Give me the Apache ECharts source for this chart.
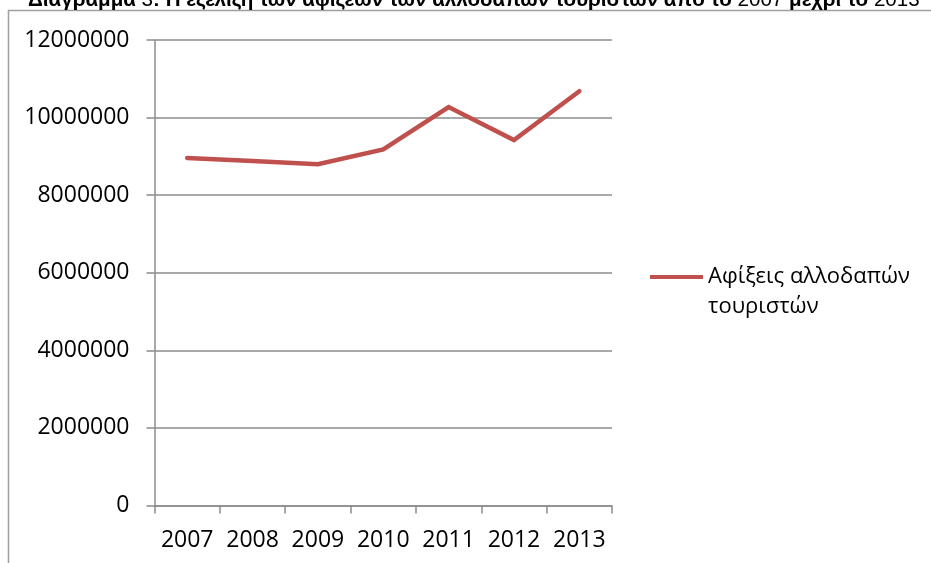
<!DOCTYPE html>
<html>
<head>
<meta charset="utf-8">
<script src="https://cdn.jsdelivr.net/npm/echarts@6/dist/echarts.min.js"></script>
<style>
  html, body { margin: 0; padding: 0; background: #fff; }
  #chart { width: 931px; height: 563px; }
</style>
</head>
<body>
<div id="chart"></div>
<script>
// Arrivals of foreign tourists per year
const years = ['2007', '2008', '2009', '2010', '2011', '2012', '2013'];
const arrivals = [8960000, 8880000, 8800000, 9180000, 10270000, 9420000, 10680000];
const seriesName = 'Αφίξεις αλλοδαπών\nτουριστών';

// Heading pieces: [text, bold?]
const headingParts = [
  ['Διάγραμμα ', true], ['3', false], [': Η εξέλιξη των αφίξεων των αλλοδαπών τουριστών από το ', true],
  ['2007', false], [' μέχρι το ', true], ['2013', false]
];

const FONT = '"Open Sans", "Noto Sans", sans-serif';
const AXIS_GRAY = '#8c8c8c';
const LINE_RED = '#C0504D';

const headingText = headingParts.map(([t, b]) => '{' + (b ? 'b' : 'n') + '|' + t + '}').join('');

const chart = echarts.init(document.getElementById('chart'), null, { renderer: 'canvas' });
chart.setOption({
  backgroundColor: '#ffffff',
  animation: false,
  graphic: [
    {
      type: 'rect', silent: true,
      shape: { x: 8.5, y: 10.5, width: 1000, height: 1000 },
      style: { fill: 'none', stroke: '#a0a0a0', lineWidth: 1.5 }
    },
    {
      type: 'text', silent: true, x: 28, y: -10,
      style: {
        text: headingText,
        fill: '#000',
        rich: {
          b: { fontFamily: '"Liberation Sans", Arial, sans-serif', fontWeight: 'bold', fontSize: 20.6, fill: '#000' },
          n: { fontFamily: '"Liberation Sans", Arial, sans-serif', fontWeight: 'normal', fontSize: 20.6, fill: '#000' }
        }
      }
    }
  ],
  grid: { left: 154.5, right: 319, top: 40, bottom: 57.5 },
  legend: {
    left: 650, top: 232,
    orient: 'vertical',
    padding: 0,
    itemWidth: 53, itemHeight: 4,
    icon: 'rect',
    data: [{ name: seriesName, icon: 'rect' }],
    itemStyle: { color: LINE_RED },
    // a blank leading line keeps the marker level with the first text line
    formatter: name => ' \n' + name,
    textStyle: { fontFamily: FONT, fontSize: 22, color: '#000', lineHeight: 30 }
  },
  xAxis: {
    type: 'category',
    data: years,
    boundaryGap: true,
    axisLine: { lineStyle: { color: AXIS_GRAY, width: 1.5 } },
    axisTick: { show: true, length: 8, alignWithLabel: false, lineStyle: { color: AXIS_GRAY, width: 1.5 } },
    axisLabel: { fontFamily: FONT, fontSize: 23, color: '#000', margin: 23, interval: 0 }
  },
  yAxis: {
    type: 'value',
    min: 0, max: 12000000, interval: 2000000,
    axisLine: { show: true, lineStyle: { color: AXIS_GRAY, width: 1.5 } },
    axisTick: { show: true, length: 8, lineStyle: { color: AXIS_GRAY, width: 1.5 } },
    splitLine: { show: true, lineStyle: { color: AXIS_GRAY, width: 1.5 } },
    axisLabel: { fontFamily: FONT, fontSize: 23, color: '#000', margin: 25, formatter: v => String(v) }
  },
  series: [{
    name: seriesName,
    type: 'line',
    data: arrivals,
    showSymbol: false,
    symbol: 'none',
    color: LINE_RED,
    lineStyle: { color: LINE_RED, width: 4.5, cap: 'round', join: 'miter' }
  }]
});
</script>
</body>
</html>
